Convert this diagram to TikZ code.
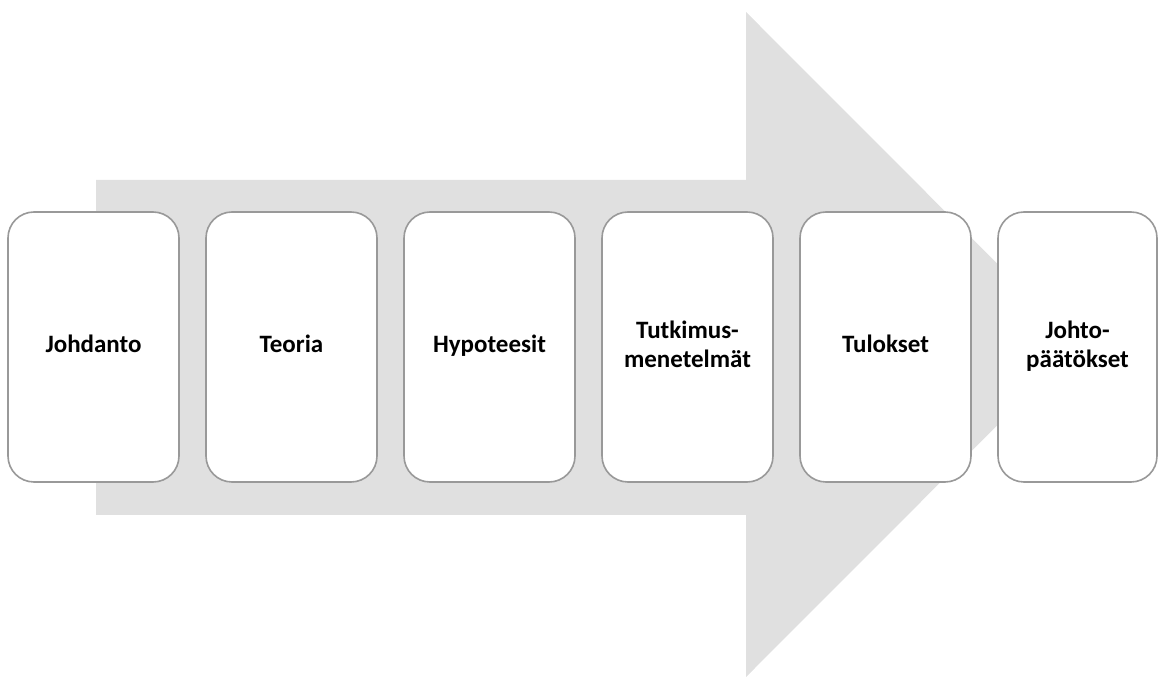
\documentclass[tikz,border=0pt]{standalone}
\usepackage{fontspec}
\setmainfont{Carlito}
\begin{document}
\begin{tikzpicture}[x=1pt,y=1pt,
  stage/.style={draw=black!40, line width=1.6pt, fill=white, rounded corners=26pt,
    minimum width=171pt, minimum height=270pt, inner sep=0pt, align=center,
    font=\bfseries\fontsize{25}{29}\selectfont},
  arrowbg/.style={fill=black!12, draw=none}]
\useasboundingbox (0,0) rectangle (1158,677);
\fill[arrowbg] (96,497) -- (746,497) -- (746,665) -- (1078,332.5) -- (746,0) -- (746,162) -- (96,162) -- cycle;
\node[stage] (n1) at (93.5,330) {\strut Johdanto};
\node[stage] (n2) at (291.5,330) {\strut Teoria};
\node[stage] (n3) at (489.5,330) {\strut Hypoteesit};
\node[stage] (n4) at (687.5,330) {\strut Tutkimus-\\\strut menetelmät};
\node[stage] (n5) at (885.5,330) {\strut Tulokset};
\node[stage, minimum width=159pt] (n6) at (1077.5,330) {\strut Johto-\\\strut päätökset};
\end{tikzpicture}
\end{document}
